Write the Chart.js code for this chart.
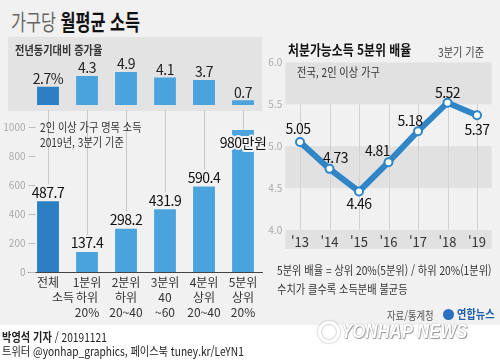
<!DOCTYPE html>
<html lang="ko">
<head>
<meta charset="utf-8">
<script src="https://cdn.jsdelivr.net/npm/chart.js@4.4.1/dist/chart.umd.min.js"></script>
<style>
  body { margin: 0; width: 500px; height: 363px; background: #fff; position: relative; overflow: hidden;
         font-family: 'Noto Sans CJK KR', sans-serif; color: #222; }
  .bg { position: absolute; left: 0; top: 0; width: 500px; height: 325px; background: #f1f1f1; }
  .panel { position: absolute; left: 8px; top: 37px; width: 254px; height: 74px; background: #e3e3e3; }
  .t { position: absolute; white-space: nowrap; transform: scaleX(0.85); transform-origin: left center; }
  canvas { position: absolute; }
</style>
</head>
<body>
<div class="bg"></div>
<div class="panel"></div>

<canvas id="growthChart" width="262" height="74" style="left:8px; top:37px;"></canvas>
<canvas id="incomeChart" width="280" height="215" style="left:0; top:110px;"></canvas>
<canvas id="ratioChart" width="238" height="202" style="left:262px; top:50px;"></canvas>

<div class="t" style="left:11px; top:8px; font-size:22px; line-height:24px; transform:scaleX(0.74);">
  <span style="color:#666;">가구당</span> <b style="color:#111;">월평균 소득</b></div>
<div class="t" style="left:15px; top:43px; font-size:12px; line-height:14px; font-weight:bold; color:#333;">전년동기대비 증가율</div>
<div class="t" style="left:40px; top:120px; font-size:12px; line-height:14px; color:#333;">2인 이상 가구 명목 소득</div>
<div class="t" style="left:40px; top:135px; font-size:12px; line-height:14px; color:#333;">2019년, 3분기 기준</div>

<div class="t" style="left:288px; top:41px; font-size:14px; line-height:16px; font-weight:bold; color:#111;">처분가능소득 5분위 배율</div>
<div class="t" style="left:438px; top:45px; font-size:12px; line-height:14px; color:#444;">3분기 기준</div>
<div class="t" style="left:297px; top:65px; font-size:12px; line-height:14px; color:#333;">전국, 2인 이상 가구</div>

<div class="t" style="left:277px; top:263px; font-size:12px; line-height:14px; color:#333;">5분위 배율 = 상위 20%(5분위) / 하위 20%(1분위)</div>
<div class="t" style="left:277px; top:282px; font-size:12px; line-height:14px; color:#333;">수치가 클수록 소득분배 불균등</div>
<div class="t" style="left:387px; top:309px; font-size:11px; line-height:13px; color:#555;">자료/통계청</div>
<div style="position:absolute; left:443px; top:309px; width:11px; height:11px; border-radius:50%; background:#2a6fc0;"></div>
<div class="t" style="left:457px; top:307px; font-size:12px; line-height:14px; font-weight:bold; color:#1f5fb0;">연합뉴스</div>

<div style="position:absolute; left:318px; top:321px; width:16px; height:16px; border-radius:50%; border:3px solid #fff; box-shadow:0 0 2px #888, inset 0 0 2px #888;"></div>
<div class="t" style="left:341px; top:320px; font-family:'Liberation Sans', sans-serif; font-size:20px; line-height:22px; font-weight:bold; font-style:italic; color:#fff; text-shadow:0 0 1px #777, 1px 1px 1px #999; transform:scaleX(0.84);">YONHAP NEWS</div>

<div class="t" style="left:2px; top:330px; font-size:12px; line-height:14px; color:#222;"><b>박영석 기자</b> / 20191121</div>
<div class="t" style="left:2px; top:344px; font-size:12px; line-height:14px; color:#222;">트위터 @yonhap_graphics, 페이스북 tuney.kr/LeYN1</div>

<script>
// data
const groups = ['전체', '1분위', '2분위', '3분위', '4분위', '5분위'];
const groupSub = [[], ['하위', '20%'], ['하위', '20~40'], ['40', '~60'], ['상위', '20~40'], ['상위', '20%']];
const growth = [2.7, 4.3, 4.9, 4.1, 3.7, 0.7];
const income = [487.7, 137.4, 298.2, 431.9, 590.4, 980];
const incomeTicks = [0, 200, 400, 600, 800, 1000];
const years = ["'13", "'14", "'15", "'16", "'17", "'18", "'19"];
const ratio = [5.05, 4.73, 4.46, 4.81, 5.18, 5.52, 5.37];
const ratioTicks = [4.0, 4.5, 5.0, 5.5, 6.0];

Chart.defaults.font.family = "'Noto Sans CJK KR', sans-serif";
Chart.defaults.animation = false;
Chart.defaults.responsive = false;
Chart.defaults.plugins.legend.display = false;
Chart.defaults.plugins.tooltip.enabled = false;

const darkBlue = '#2b7fc3';
const lightBlue = '#4ba3de';
const lineBlue = '#2f85c6';
const barColors = groups.map((g, i) => i === 0 ? darkBlue : lightBlue);

// Growth rate bars (top panel)
new Chart(document.getElementById('growthChart'), {
  type: 'bar',
  data: {
    labels: groups,
    datasets: [{ data: growth, backgroundColor: barColors, barPercentage: 0.56, categoryPercentage: 1 }]
  },
  options: {
    layout: { padding: { left: 20.5, right: 7.5, top: 0, bottom: 6 } },
    scales: {
      x: { display: false },
      y: { display: false, min: 0, max: 10.1 }
    }
  },
  plugins: [{
    id: 'growthLabels',
    afterDatasetsDraw(chart) {
      const ctx = chart.ctx;
      ctx.save();
      ctx.font = "14px 'Noto Sans CJK KR'";
      ctx.letterSpacing = '-0.5px';
      ctx.fillStyle = '#222';
      ctx.textAlign = 'center';
      ctx.textBaseline = 'middle';
      chart.getDatasetMeta(0).data.forEach((bar, i) => {
        const txt = i === 0 ? growth[i] + '%' : String(growth[i]);
        ctx.fillText(txt, bar.x, bar.y - 8);
      });
      ctx.restore();
    }
  }]
});

// Monthly income bars
new Chart(document.getElementById('incomeChart'), {
  type: 'bar',
  data: {
    labels: groups.map((g, i) => [g, ...groupSub[i]]),
    datasets: [{ data: income, backgroundColor: barColors, barPercentage: 0.56, categoryPercentage: 1 }]
  },
  options: {
    layout: { padding: { left: 0, right: 17.5, top: 17, bottom: 0 } },
    scales: {
      x: {
        grid: { display: false, drawTicks: false },
        border: { color: '#444', width: 1 },
        ticks: { color: '#333', font: { size: 12, lineHeight: 1.25 }, padding: 3, maxRotation: 0, autoSkip: false },
        afterFit: s => { s.height = 53; }
      },
      y: {
        min: 0, max: 1000,
        afterBuildTicks: s => { s.ticks = incomeTicks.map(v => ({ value: v })); },
        grid: { display: false, drawTicks: false },
        border: { display: false },
        ticks: { color: '#aaa', font: { size: 10 }, padding: 3, callback: v => String(v) },
        afterFit: s => { s.width = 28.5; }
      }
    }
  },
  plugins: [{
    id: 'incomeDecor',
    beforeDatasetsDraw(chart) {
      const ctx = chart.ctx;
      const y = chart.scales.y;
      const left = chart.chartArea.left;
      ctx.save();
      ctx.strokeStyle = '#c8c8c8';
      ctx.lineWidth = 1;
      chart.getDatasetMeta(0).data.forEach((bar, i) => {
        const end = i === income.length - 1 ? bar.y : bar.y - 17;
        const x = Math.round(bar.x) + 0.5;
        ctx.beginPath();
        ctx.moveTo(x, 0);
        ctx.lineTo(x, end);
        ctx.stroke();
      });
      // short tick dashes just inside the axis
      ctx.strokeStyle = '#bdbdbd';
      incomeTicks.forEach(v => {
        const py = Math.round(y.getPixelForValue(v)) + 0.5;
        ctx.beginPath();
        ctx.moveTo(left, py);
        ctx.lineTo(left + 7, py);
        ctx.stroke();
      });
      ctx.restore();
    },
    afterDatasetsDraw(chart) {
      const ctx = chart.ctx;
      const bars = chart.getDatasetMeta(0).data;
      ctx.save();
      ctx.font = "14px 'Noto Sans CJK KR'";
      ctx.letterSpacing = '-0.5px';
      ctx.textAlign = 'center';
      ctx.textBaseline = 'middle';
      bars.forEach((bar, i) => {
        if (i === income.length - 1) {
          const txt = income[i] + '만원';
          ctx.lineWidth = 4;
          ctx.lineJoin = 'round';
          ctx.strokeStyle = '#f3f3f3';
          ctx.strokeText(txt, bar.x, bar.y + 13);
          ctx.fillStyle = '#111';
          ctx.fillText(txt, bar.x, bar.y + 13);
        } else {
          ctx.fillStyle = '#111';
          ctx.fillText(income[i].toFixed(1), bar.x, bar.y - 9);
        }
      });
      // "소득" sits left of the 1분위 sub label
      ctx.font = "12px 'Noto Sans CJK KR'";
      ctx.letterSpacing = '0px';
      ctx.fillStyle = '#333';
      ctx.fillText('소득', bars[1].x - 24, chart.chartArea.bottom + 25);
      ctx.restore();
    }
  }]
});

// Quintile ratio line
new Chart(document.getElementById('ratioChart'), {
  type: 'line',
  data: {
    labels: years,
    datasets: [{
      data: ratio,
      borderColor: lineBlue,
      borderWidth: 6,
      tension: 0,
      pointRadius: 4,
      pointBackgroundColor: '#fff',
      pointBorderColor: lineBlue,
      pointBorderWidth: 2
    }]
  },
  options: {
    layout: { padding: { left: 0, right: 8.25, top: 12.5, bottom: 0 } },
    scales: {
      x: {
        offset: true,
        grid: { display: false, drawTicks: false },
        border: { display: false },
        ticks: { color: '#333', font: { size: 13 }, padding: 4 },
        afterFit: s => { s.height = 22; }
      },
      y: {
        min: 4, max: 6,
        afterBuildTicks: s => { s.ticks = ratioTicks.map(v => ({ value: v })); },
        grid: { display: false, drawTicks: false },
        border: { display: false },
        ticks: { color: '#aaa', font: { size: 10 }, padding: 3, callback: v => v.toFixed(1) },
        afterFit: s => { s.width = 23.25; }
      }
    }
  },
  plugins: [{
    id: 'bands',
    beforeDraw(chart) {
      const { ctx, chartArea: a, scales: { x, y } } = chart;
      ctx.save();
      ctx.fillStyle = '#e1e1e1';
      [[6, 5.5], [5, 4.5]].forEach(([hi, lo]) => {
        ctx.fillRect(a.left, y.getPixelForValue(hi), a.right - a.left, y.getPixelForValue(lo) - y.getPixelForValue(hi));
      });
      ctx.fillRect(a.left, a.bottom, a.right - a.left, 19);
      ctx.strokeStyle = '#d2d2d2';
      ctx.lineWidth = 1;
      years.forEach((yr, i) => {
        const px = Math.round(x.getPixelForValue(i)) + 0.5;
        ctx.beginPath();
        ctx.moveTo(px, y.getPixelForValue(5.5));
        ctx.lineTo(px, a.bottom);
        ctx.stroke();
      });
      ctx.restore();
    },
    afterDatasetsDraw(chart) {
      const ctx = chart.ctx;
      const offsets = [[-2, -13], [6, -11], [0, 12], [-11, -11], [-8, -10], [0, -10], [0, 14]];
      ctx.save();
      ctx.font = "14px 'Noto Sans CJK KR'";
      ctx.letterSpacing = '-0.5px';
      ctx.fillStyle = '#111';
      ctx.textAlign = 'center';
      ctx.textBaseline = 'middle';
      chart.getDatasetMeta(0).data.forEach((pt, i) => {
        ctx.fillText(ratio[i].toFixed(2), pt.x + offsets[i][0], pt.y + offsets[i][1]);
      });
      ctx.restore();
    }
  }]
});
</script>
</body>
</html>
